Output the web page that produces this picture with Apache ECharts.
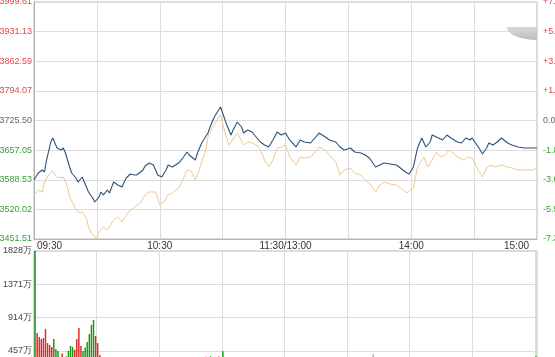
<!DOCTYPE html>
<html><head><meta charset="utf-8">
<script src="https://cdn.jsdelivr.net/npm/echarts@6/dist/echarts.min.js"></script>
<style>html,body{margin:0;padding:0;background:#fff}#c{width:555px;height:357px}</style>
</head><body><div id="c"></div>
<script>
const timeTicks = [0, 60, 120, 180, 240];
const timeLabels = ['09:30', '10:30', '11:30/13:00', '14:00', '15:00'];
const priceLabels = ['3451.51','3520.02','3588.53','3657.05','3725.50','3794.07','3862.59','3931.13','3999.61'];
const pctLabels = ['-7.36%','-5.52%','-3.68%','-1.84%','0.00%','+1.84%','+3.68%','+5.52%','+7.36%'];
const volLabels = ['', '457万', '914万', '1371万', '1828万'];

const blueMin = [0,2,4,5,6,8,9,10,11,13,14,15,17,18,20,21,23,24,26,28,29,31,32,33,35,36,38,40,42,43,44,46,48,49,52,53,55,57,59,61,63,64,66,69,71,73,74,77,78,80,83,84,86,89,90,92,94,95,97,99,100,102,104,106,108,110,112,114,116,118,120,122,125,127,129,132,134,136,139,141,144,146,148,151,153,156,158,160,163,165,167,170,173,176,178,179,181,183,185,187,189,190,193,195,197,199,202,204,206,208,209,212,214,216,217,219,221,223,226,228,231,234,238,240];
const blueVal = [3588.0,3604.1,3611.1,3606.4,3634.2,3675.8,3685.1,3673.5,3662.0,3657.3,3662.0,3650.4,3618.0,3604.1,3592.6,3583.3,3594.9,3583.3,3560.2,3546.3,3537.1,3548.6,3560.2,3553.2,3564.8,3557.9,3583.3,3576.4,3571.8,3583.3,3592.6,3601.8,3599.5,3599.5,3611.1,3620.3,3627.2,3622.6,3599.5,3594.9,3611.1,3622.6,3618.0,3627.2,3638.8,3652.7,3645.8,3634.2,3650.4,3673.5,3696.6,3710.5,3733.7,3756.8,3742.9,3715.0,3692.0,3703.6,3722.1,3710.5,3696.6,3703.6,3699.0,3687.4,3675.8,3668.9,3664.3,3680.5,3699.0,3692.0,3696.6,3680.5,3664.3,3680.5,3675.8,3673.5,3685.1,3696.6,3687.4,3680.5,3675.8,3664.3,3657.3,3662.0,3652.7,3650.4,3645.8,3638.8,3618.0,3622.6,3627.2,3624.9,3622.6,3611.1,3604.1,3601.8,3618.0,3662.0,3685.1,3664.3,3675.8,3692.0,3685.1,3680.5,3692.0,3685.1,3675.8,3673.5,3685.1,3680.5,3685.1,3664.3,3648.1,3662.0,3673.5,3668.9,3675.8,3685.1,3673.5,3668.9,3664.3,3662.0,3662.0,3662.0];

const tanMin = [0,2,4,5,7,9,10,12,14,16,17,19,20,22,23,25,26,28,30,31,33,35,36,38,40,42,44,46,48,51,53,55,58,60,62,64,66,69,71,73,75,77,78,80,82,83,85,88,89,91,93,94,97,98,100,102,104,106,108,110,112,114,116,118,120,122,125,127,129,132,134,136,139,141,144,146,148,151,153,156,158,160,163,165,167,170,173,176,178,181,183,186,188,190,192,194,196,198,200,202,205,207,209,212,214,216,218,220,223,226,228,231,238,240];
const tanVal = [3553.2,3564.8,3560.2,3583.3,3599.5,3608.8,3599.5,3592.6,3594.9,3571.8,3548.6,3530.2,3518.6,3511.6,3514.0,3500.1,3479.2,3460.8,3453.7,3467.7,3479.2,3472.3,3479.2,3495.4,3502.4,3490.8,3507.0,3518.6,3525.5,3537.1,3553.2,3560.2,3560.2,3530.2,3537.1,3553.2,3557.9,3569.5,3588.0,3611.1,3608.8,3588.0,3599.5,3629.5,3657.3,3687.4,3708.2,3731.3,3738.3,3699.0,3668.9,3675.8,3696.6,3687.4,3668.9,3675.8,3673.5,3668.9,3657.3,3634.2,3618.0,3634.2,3662.0,3664.3,3668.9,3641.1,3622.6,3641.1,3638.8,3641.1,3652.7,3664.3,3657.3,3645.8,3629.5,3599.5,3611.1,3615.7,3604.1,3599.5,3588.0,3581.0,3560.2,3576.4,3583.3,3578.7,3576.4,3564.8,3557.9,3569.5,3618.0,3641.1,3618.0,3634.2,3652.7,3641.1,3645.8,3657.3,3650.4,3641.1,3634.2,3641.1,3638.8,3611.1,3594.9,3615.7,3622.6,3618.0,3622.6,3618.0,3615.7,3611.1,3611.1,3615.7];

const volumes = [1828,701,646,618,632,756,563,536,508,618,480,453,370,420,360,380,453,522,508,470,618,770,522,453,500,577,687,811,880,660,563,400,
360,340,310,355,290,330,300,345,280,310,
265,300,320,285,250,295,270,310,260,240,
280,255,300,270,235,260,290,250,225,270,
245,280,300,330,290,310,340,325,360,345,
320,355,300,280,335,310,350,365,340,370,
375,360,380,355,370,365,378,372,450,350,
330,300,320,290,275,305,280,260,290,250,
240,265,230,255,220,245,260,215,235,250,
225,240,210,230,255,200,220,240,270,320,
300,280,260,290,250,235,270,245,225,255,
240,210,230,205,250,220,235,200,215,240,
225,260,245,280,300,265,240,255,230,210,
245,225,260,240,270,255,290,275,300,320,
410,340,300,285,310,295,270,250,280,260,
240,265,290,275,300,320,290,310,340,350,
365,330,345,310,290,320,300,275,295,270,
250,280,260,235,255,240,225,250,230,210,
235,220,250,225,205,240,260,280,300,270,
290,255,240,265,230,250,220,245,215,230,
210,235,200,225,250,215,240,260,230,255,
280,300,270,320,290,340,360,370,380];
const volDir = ('duuuuuuuu' + 'dddd' + 'u' + 'ddddd' + 'uuuu' + 'dddddd' + 'uuu' +
  'dduududdud' + 'uudduddudu' + 'uudddudduu' + 'duuuduuduu' + 'uduuduuudu' +
  'uuduuduudd' + 'dddudddudd' + 'uddudduddu' + 'ddudduduud' + 'ddudduddud' +
  'udduduudud' + 'duuddudduu' + 'ududduuddu' + 'eddudduudd' + 'uduuduudud' +
  'uddudduudu' + 'dduddudduu' + 'ddudduuduu' + 'ddudduuddu' + 'ddudduduud' +
  'uududduud').split('');

const pMin = 3451.51, pMax = 3999.61, pInt = (pMax - pMin) / 8;
const RED = '#e0474a', GREEN = '#3a9a3a', GREY = '#666';
function lvl(v) { return Math.round((v - pMin) / pInt); }
function lvlColor(v) { const i = lvl(v); return i > 4 ? RED : (i < 4 ? GREEN : GREY); }

const volCats = volumes.map((_, i) => i);
const volData = volumes.map((v, i) => ({
  value: v,
  itemStyle: { color: volDir[i] === 'u' ? '#e02828' : (volDir[i] === 'd' ? '#169816' : '#aaaaaa') }
}));

// decorative grey quarter-ellipse in the top-right corner
const blob = [[537, 27]];
for (let k = 0; k <= 20; k++) {
  const a = Math.PI / 2 + (Math.PI / 2) * k / 20;
  blob.push([537 + 30 * Math.cos(a), 27 + 13 * Math.sin(a)]);
}

const chart = echarts.init(document.getElementById('c'), null, { renderer: 'canvas' });
const font = 'Liberation Sans, Arial, sans-serif';
chart.setOption({
  animation: false,
  backgroundColor: '#fff',
  textStyle: { fontFamily: font },
  grid: [
    { left: 34, right: 18, top: 2, height: 237, show: true, borderColor: '#b5b5b5', borderWidth: 1, outerBoundsMode: 'none', containLabel: false },
    { left: 34, right: 18, top: 251, height: 133, show: true, borderColor: '#b5b5b5', borderWidth: 1, outerBoundsMode: 'none', containLabel: false }
  ],
  xAxis: [
    {
      type: 'value', gridIndex: 0, min: 0, max: 240, interval: 30,
      axisLine: { show: true, lineStyle: { color: '#b5b5b5' } },
      axisTick: { show: false },
      splitLine: { show: true, lineStyle: { color: '#dcdcdc', width: 1 } },
      axisLabel: {
        margin: 2, fontSize: 10, color: '#333', fontFamily: font,
        alignMinLabel: 'left', alignMaxLabel: 'right',
        formatter: function (v) {
          const i = timeTicks.indexOf(Math.round(v));
          if (i < 0) return '';
          if (i === 0) return '{l|' + timeLabels[i] + '}';
          if (i === timeTicks.length - 1) return '{r|' + timeLabels[i] + '}';
          return timeLabels[i];
        },
        rich: {
          l: { fontSize: 10, color: '#333', padding: [0, 0, 0, 3] },
          r: { fontSize: 10, color: '#333', padding: [0, 8, 0, 0] }
        }
      }
    },
    {
      type: 'category', gridIndex: 1, data: volCats, boundaryGap: true,
      axisLine: { show: false }, axisTick: { show: false }, axisLabel: { show: false },
      splitLine: { show: true, interval: function (i) { return i > 0 && i % 30 === 0; }, lineStyle: { color: '#dcdcdc' } }
    }
  ],
  yAxis: [
    {
      type: 'value', gridIndex: 0, min: pMin, max: pMax, interval: pInt,
      axisLine: { show: true, lineStyle: { color: '#b5b5b5' } },
      axisTick: { show: false },
      splitLine: { show: true, lineStyle: { color: '#dcdcdc' } },
      axisLabel: {
        margin: 2, fontSize: 9, fontFamily: font,
        formatter: function (v) { return priceLabels[lvl(v)] || ''; },
        color: function (v) { return lvlColor(+v); }
      }
    },
    {
      type: 'value', gridIndex: 0, position: 'right', min: pMin, max: pMax, interval: pInt,
      axisLine: { show: false }, axisTick: { show: false }, splitLine: { show: false },
      axisLabel: {
        margin: 6, fontSize: 9, fontFamily: font,
        formatter: function (v) { return pctLabels[lvl(v)] || ''; },
        color: function (v) { return lvlColor(+v); }
      }
    },
    {
      type: 'value', gridIndex: 1, min: 0, max: 1828, interval: 457,
      axisLine: { show: true, lineStyle: { color: '#b5b5b5' } },
      axisTick: { show: false },
      splitLine: { show: true, lineStyle: { color: '#dcdcdc' } },
      axisLabel: {
        margin: 2, fontSize: 9, color: '#444', fontFamily: font,
        formatter: function (v) { return volLabels[Math.round(v / 457)] || ''; }
      }
    }
  ],
  series: [
    {
      type: 'line', xAxisIndex: 0, yAxisIndex: 0, symbol: 'none',
      data: tanMin.map((m, i) => [m, tanVal[i]]),
      lineStyle: { color: '#ecc995', width: 1 }, z: 3
    },
    {
      type: 'line', xAxisIndex: 0, yAxisIndex: 0, symbol: 'none',
      data: blueMin.map((m, i) => [m, blueVal[i]]),
      lineStyle: { color: '#2c5277', width: 1.1 }, z: 4
    },
    {
      type: 'bar', xAxisIndex: 1, yAxisIndex: 2, data: volData,
      barWidth: '70%', barCategoryGap: '30%'
    }
  ],
  graphic: [
    {
      type: 'polygon', shape: { points: blob }, z: 1,
      style: {
        fill: new echarts.graphic.LinearGradient(0, 0, 0, 1, [
          { offset: 0, color: '#d8d8d8' }, { offset: 1, color: '#bdbdbd' }
        ])
      }
    }
  ]
});
</script></body></html>
